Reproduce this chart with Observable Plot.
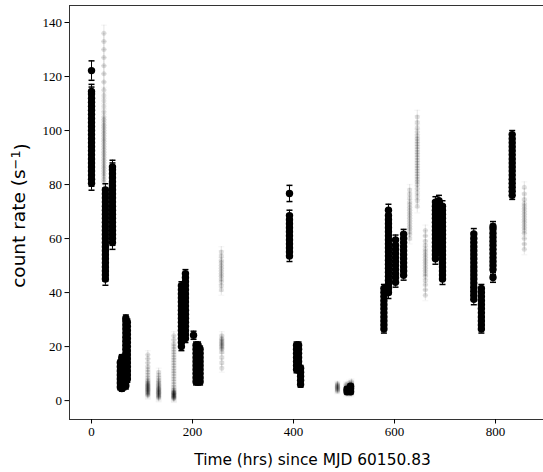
<!DOCTYPE html>
<html><head><meta charset="utf-8">
<script src="https://cdn.jsdelivr.net/npm/d3@7"></script>
<script src="https://cdn.jsdelivr.net/npm/@observablehq/plot@0.6"></script>
<style>
body{margin:0;background:#fff;overflow:hidden;} svg{display:block}
</style>
</head><body><div id="chart"></div>
<script>
// Solid (black) observation segments: time (hrs), error (s^-1), count rates (s^-1)
const blackTime = [0, 0, 27.5, 41.5, 57, 60, 63, 68, 71, 178, 186, 202, 207, 211, 215, 392, 392, 406, 410, 414, 506, 513, 579, 588, 602, 618, 681, 688, 695, 757, 772, 795, 833];
const blackErr  = [2.6, 3.6, 2.3, 2.5, 1, 1, 1, 1.2, 1.2, 1.5, 1.5, 1.5, 1.2, 1.2, 1.2, 3, 2, 1.2, 1.2, 1, 0.8, 0.8, 1.5, 2.2, 1.8, 1.8, 2, 2, 2, 2, 1.5, 1.8, 1.5];
const blackRates = [
  [80.5,82,83.5,85,86.5,88,89.5,91,92.5,94,95.5,97,98.5,100,101.5,103,104.5,106,107.5,109,110.5,112,113.5,114.5],
  [122.2],
  [45,46.5,48,49.5,51,52.5,54,55.5,57,58.5,60,61.5,63,64.5,66,67.5,69,70.5,72,73.5,75,76.5,78],
  [58.5,60,61.5,63,64.5,66,67.5,69,70.5,72,73.5,75,76.5,78,79.5,81,82.5,84,85.5,86.5],
  [5,6.5,8,9.5,11,12.5,14],
  [4.5,6,7.5,9,10.5,12,13.5,15,16],
  [5,6.5,8,9.5,11,12.5,14,15.5],
  [5.5,7,8.5,10,11.5,13,14.5,16,17.5,19,20.5,22,23.5,25,26.5,28,29.5,30.5],
  [8,9.5,11,12.5,14,15.5,17,18.5,20,21.5,23,24.5,26,27.5,29],
  [20,21.5,23,24.5,26,27.5,29,30.5,32,33.5,35,36.5,38,39.5,41,42.5],
  [23,24.5,26,27.5,29,30.5,32,33.5,35,36.5,38,39.5,41,42.5,44,45.5,47],
  [24.2],
  [7,8.5,10,11.5,13,14.5,16,17.5,19,20.5],
  [7,8.5,10,11.5,13,14.5,16,17.5,19,20.5],
  [7,8.5,10,11.5,13,14.5,16,17.5,19],
  [76.7],
  [53.5,55,56.5,58,59.5,61,62.5,64,65.5,67,68.5],
  [11.5,13,14.5,16,17.5,19,20.5],
  [11.5,13,14.5,16,17.5,19,20.5],
  [6,7.5,9,10.5,12],
  [3.3,4.2],
  [3.3,4.5,5.3],
  [26.5,28,29.5,31,32.5,34,35.5,37,38.5,40,41.5],
  [40,41.5,43,44.5,46,47.5,49,50.5,52,53.5,55,56.5,58,59.5,61,62.5,64,65.5,67,68.5,70.5],
  [43.8,45.5,47,48.5,50,51.5,53,54.5,56,57.5,59.5],
  [46.4,48,49.5,51,52.5,54,55.5,57,58.5,60,61.6],
  [52.5,54,55.5,57,58.5,60,61.5,63,64.5,66,67.5,69,70.5,72,73.5],
  [56,57.5,59,60.5,62,63.5,65,66.5,68,69.5,71,72.5,74],
  [45,46.5,48,49.5,51,52.5,54,55.5,57,58.5,60,61.5,63,64.5,66,67.5,69,70.5,72],
  [37.5,39,40.5,42,43.5,45,46.5,48,49.5,51,52.5,54,55.5,57,58.5,60,61.7],
  [26.5,28,29.5,31,32.5,34,35.5,37,38.5,40,41.5],
  [45.6,48.5,50,51.5,53,54.5,56,57.5,59,60.5,62,63.5,64.5],
  [76,77.5,79,80.5,82,83.5,85,86.5,88,89.5,91,92.5,94,95.5,97,98.5]
];

// Faint (gray) observation segments
const grayTime = [24.5, 111.5, 133, 163, 257, 258, 487, 504, 510, 515, 630, 645, 661, 857];
const grayErr  = [3, 1.5, 1.5, 1.5, 2, 1.5, 1, 1, 1, 1, 2, 2.5, 2, 2];
const grayRates = [
  [81,82,83,84,85,86,87,88,89,90,91,92,93,94,95,96,97,98,99,100,101,102,103,104,105,107,109,111,113,115,118,121,124,127,130,133,136],
  [2,2.3,2.6,2.9,3.2,3.5,3.8,4.1,4.4,4.7,5,5.3,5.6,5.9,6.2,6.5,7,7.5,8.5,9.5,10.5,11.5,12.5,14,15.5,17],
  [1,1.3,1.6,1.9,2.2,2.5,2.8,3.1,3.4,3.7,4,4.3,4.6,5,5.5,6,6.5,7,7.5,8.5,9.5,10.5],
  [0.8,1,1.2,1.4,1.6,1.8,2,2.2,2.4,2.6,2.8,3,3.2,3.6,4,5,6,7,8,9,10,11,12,13,14,15,16,17,18,19,20,21,22.5,24],
  [41,42.5,44,45,46,47,48,49,50,51,52,53.5,55],
  [12,14,16,18,19,19.5,20,20.5,21,21.5,22,22.5,23,24],
  [3.5,3.8,4.1,4.4,4.7,5,5.3,5.6,5.9,6.2],
  [2.5,3,3.5,4,4.5,5,5.5,6],
  [2.5,2.8,3.1,3.4,3.7,4,4.3,4.6,5,5.5,6,6.5],
  [2.5,3,3.5,4,4.5,5,5.5,6,6.5,7],
  [60,61.5,62.5,63.5,64.5,65.5,66.5,67.5,68.5,69.5,70.5,71.5,72.5,73.5,75,76.5,78],
  [72,74,75.5,77,78.5,80,81,82,83,84,85,86,87,88,89,90,91,92,93,94,95,96,97,98,99.5,101,103,105],
  [39,41,43,44.5,46,47,48,49,50,51,52,53,54,55,56,57.5,59,61,63],
  [56,58,60,62,63,64,65,66,67,68,69,70,71,72,73,74.5,76.5,79]
];

const xTicks = [0, 200, 400, 600, 800];
const yTicks = [0, 20, 40, 60, 80, 100, 120, 140];
const xDomain = [-43.6, 895];
const yDomain = [-7, 146.3];
const xLabel = "Time (hrs) since MJD 60150.83";
const yLabelMain = "count rate (s";
const yLabelSup = "\u22121";
const yLabelEnd = ")";

function rows(times, errs, rates) {
  return rates.flatMap((rs, i) => rs.map(r => ({t: times[i], rate: r, err: errs[i]})));
}
const black = rows(blackTime, blackErr, blackRates);
const gray = rows(grayTime, grayErr, grayRates);

const cap = {draw(ctx) { ctx.moveTo(-3, 0); ctx.lineTo(3, 0); }};
const lo = d => d.rate - d.err, hi = d => d.rate + d.err;

const chart = Plot.plot({
  width: 543, height: 472,
  marginLeft: 69, marginRight: 0, marginTop: 5, marginBottom: 53,
  x: {domain: xDomain},
  y: {domain: yDomain},
  style: {fontFamily: "Liberation Serif", fontSize: "13px", color: "#000", background: "#fff"},
  marks: [
    Plot.ruleX(gray, {x: "t", y1: lo, y2: hi, stroke: "#000", strokeOpacity: 0.1}),
    Plot.dot(gray, {x: "t", y: hi, symbol: cap, stroke: "#000", strokeOpacity: 0.03, fill: "none"}),
    Plot.dot(gray, {x: "t", y: lo, symbol: cap, stroke: "#000", strokeOpacity: 0.03, fill: "none"}),
    Plot.dot(gray, {x: "t", y: "rate", r: 2.5, fill: "#000", fillOpacity: 0.12, stroke: "none"}),
    Plot.ruleX(black, {x: "t", y1: lo, y2: hi, stroke: "#000"}),
    Plot.dot(black, {x: "t", y: hi, symbol: cap, stroke: "#000", fill: "none"}),
    Plot.dot(black, {x: "t", y: lo, symbol: cap, stroke: "#000", fill: "none"}),
    Plot.dot(black, {x: "t", y: "rate", r: 3.7, fill: "#000", stroke: "none"}),
    Plot.ruleX([xDomain[0]], {stroke: "#333"}),
    Plot.ruleY([yDomain[0], yDomain[1]], {stroke: "#333"}),
    Plot.axisX({ticks: xTicks, tickSize: 4.5, tickPadding: 3, label: null, fontFamily: "Liberation Serif", fontSize: 13}),
    Plot.axisY({ticks: yTicks, tickSize: 4.5, tickPadding: 3, label: null, fontFamily: "Liberation Serif", fontSize: 13}),
    Plot.text([xLabel], {frameAnchor: "bottom", lineAnchor: "middle", textAnchor: "middle", dx: 6, dy: 41, fontFamily: "DejaVu Sans", fontSize: 15.4, fill: "#000"}),
    Plot.text([yLabelMain], {frameAnchor: "left", lineAnchor: "middle", textAnchor: "middle", dx: -50, dy: 3, rotate: -90, fontFamily: "DejaVu Sans", fontSize: 18.5, fill: "#000"})
  ]
});
document.getElementById("chart").appendChild(chart);
// add superscript to y label as real text
d3.select(chart).selectAll("text").filter(function() { return this.textContent === yLabelMain; }).each(function() {
  const t = d3.select(this);
  t.text(null);
  t.append("tspan").text(yLabelMain);
  t.append("tspan").attr("dy", "-0.45em").attr("font-size", "0.7em").text(yLabelSup);
  t.append("tspan").attr("dy", "0.45em").text(yLabelEnd);
});
</script>
</body></html>
